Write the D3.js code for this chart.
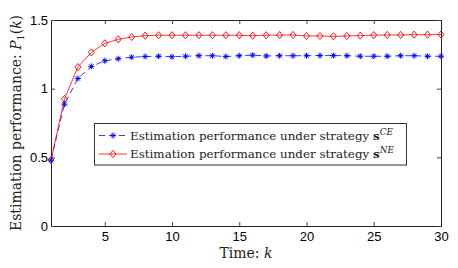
<!DOCTYPE html>
<html lang="en">
  <head>
    <meta charset="utf-8" />
    <style>
      body { margin: 0; background: #fff; }
      .tick text { font-family: "Liberation Sans", Arial, sans-serif; font-size: 13px; fill: #000; }
      .lbl { font-family: "DejaVu Serif", "Liberation Serif", serif; fill: #222; }
    </style>
  </head>
  <body>
    <script src="https://d3js.org/d3.v7.min.js"></script>
    <div id="chart"></div>
    <script>
      // data
      const steps = d3.range(1, 31);
      const ceValues = [0.48, 0.887, 1.074, 1.162, 1.203, 1.218, 1.229, 1.234, 1.236, 1.232,
        1.236, 1.24, 1.24, 1.234, 1.24, 1.244, 1.238, 1.24, 1.24, 1.24,
        1.241, 1.241, 1.24, 1.236, 1.236, 1.236, 1.24, 1.24, 1.236, 1.236];
      const neValues = [0.48, 0.925, 1.157, 1.264, 1.33, 1.359, 1.376, 1.386, 1.389, 1.389,
        1.389, 1.389, 1.389, 1.389, 1.389, 1.386, 1.389, 1.39, 1.391, 1.384,
        1.384, 1.381, 1.384, 1.386, 1.39, 1.391, 1.391, 1.393, 1.393, 1.394];
      const xTicks = [5, 10, 15, 20, 25, 30];
      const yTicks = [0, 0.5, 1, 1.5];

      const W = 458, H = 268;
      const margin = { top: 20, right: 17, bottom: 42, left: 51 };
      const width = W - margin.left - margin.right,
        height = H - margin.top - margin.bottom;

      const svg = d3.select("#chart").append("svg")
        .attr("width", W).attr("height", H);
      const g = svg.append("g")
        .attr("transform", `translate(${margin.left},${margin.top})`);

      const x = d3.scaleLinear().domain([1, 30]).range([0, width]);
      const y = d3.scaleLinear().domain([0, 1.5]).range([height, 0]);

      // axes, ticks pointing inward like matlab
      const fmt = d => d3.format("")(d);
      g.append("g").attr("transform", `translate(0,${height})`)
        .call(d3.axisBottom(x).tickValues(xTicks).tickSize(-4).tickPadding(6).tickFormat(fmt));
      g.append("g")
        .call(d3.axisTop(x).tickValues(xTicks).tickSize(-4).tickFormat(""));
      g.append("g")
        .call(d3.axisLeft(y).tickValues(yTicks).tickSize(-4).tickPadding(3).tickFormat(fmt));
      g.append("g").attr("transform", `translate(${width},0)`)
        .call(d3.axisRight(y).tickValues(yTicks).tickSize(-4).tickFormat(""));
      g.selectAll(".domain").attr("stroke", "#222");
      g.selectAll(".tick line").attr("stroke", "#444");

      const line = d3.line().x((d, i) => x(steps[i])).y(d => y(d));

      // blue dashed with asterisks
      g.append("path").datum(ceValues)
        .attr("fill", "none").attr("stroke", "#0000ff").attr("stroke-width", 0.8)
        .attr("stroke-dasharray", "6,4").attr("d", line);
      // red solid with diamonds
      g.append("path").datum(neValues)
        .attr("fill", "none").attr("stroke", "#ff0000").attr("stroke-width", 0.8)
        .attr("d", line);

      const star = (sel, cx, cy) => {
        const r = 3;
        const s = sel.append("g").attr("transform", `translate(${cx},${cy})`)
          .attr("stroke", "#0000ff").attr("stroke-width", 1);
        [[-r, 0, r, 0], [0, -r, 0, r], [-r * 0.7, -r * 0.7, r * 0.7, r * 0.7], [-r * 0.7, r * 0.7, r * 0.7, -r * 0.7]]
          .forEach(p => s.append("line").attr("x1", p[0]).attr("y1", p[1]).attr("x2", p[2]).attr("y2", p[3]));
      };
      const diamond = (sel, cx, cy) => {
        sel.append("path")
          .attr("d", `M${cx},${cy - 3.6}L${cx + 3},${cy}L${cx},${cy + 3.6}L${cx - 3},${cy}Z`)
          .attr("fill", "none").attr("stroke", "#ff0000").attr("stroke-width", 0.9);
      };

      neValues.forEach((v, i) => diamond(g, x(steps[i]), y(v)));
      ceValues.forEach((v, i) => star(g, x(steps[i]), y(v)));

      // legend
      const leg = svg.append("g");
      leg.append("rect").attr("x", 94.5).attr("y", 123.5).attr("width", 312).attr("height", 41.5)
        .attr("fill", "#fff").attr("stroke", "#333").attr("stroke-width", 1);
      const rows = [
        { y: 135.5, sup: "CE", kind: "ce" },
        { y: 154, sup: "NE", kind: "ne" }
      ];
      rows.forEach(r => {
        if (r.kind === "ce") {
          leg.append("line").attr("x1", 99).attr("x2", 127).attr("y1", r.y).attr("y2", r.y)
            .attr("stroke", "#0000ff").attr("stroke-width", 0.8).attr("stroke-dasharray", "6,4");
          star(leg, 113, r.y);
        } else {
          leg.append("line").attr("x1", 99).attr("x2", 127).attr("y1", r.y).attr("y2", r.y)
            .attr("stroke", "#ff0000").attr("stroke-width", 0.8);
          diamond(leg, 113, r.y);
        }
        const t = leg.append("text").attr("class", "lbl").attr("x", 130).attr("y", r.y + 4)
          .attr("font-size", 11.9);
        t.append("tspan").text("Estimation performance under strategy ");
        t.append("tspan").attr("font-weight", "bold").text("s");
        t.append("tspan").attr("font-style", "italic").attr("font-size", 8.8).attr("dy", -5).text(r.sup);
      });

      // axis labels
      const xl = svg.append("text").attr("class", "lbl").attr("text-anchor", "middle")
        .attr("x", margin.left + width / 2).attr("y", 258).attr("font-size", 14);
      xl.append("tspan").text("Time:  ");
      xl.append("tspan").attr("font-style", "italic").text("k");

      const yl = svg.append("text").attr("class", "lbl").attr("text-anchor", "middle")
        .attr("transform", `translate(21,123) rotate(-90)`)
        .attr("font-size", 14);
      yl.append("tspan").text("Estimation performance:  ");
      yl.append("tspan").attr("font-style", "italic").text("P");
      yl.append("tspan").attr("font-size", 9.5).attr("dy", 3).text("1");
      yl.append("tspan").attr("dy", -3).text("(");
      yl.append("tspan").attr("font-style", "italic").text("k");
      yl.append("tspan").text(")");
    </script>
  </body>
</html>
